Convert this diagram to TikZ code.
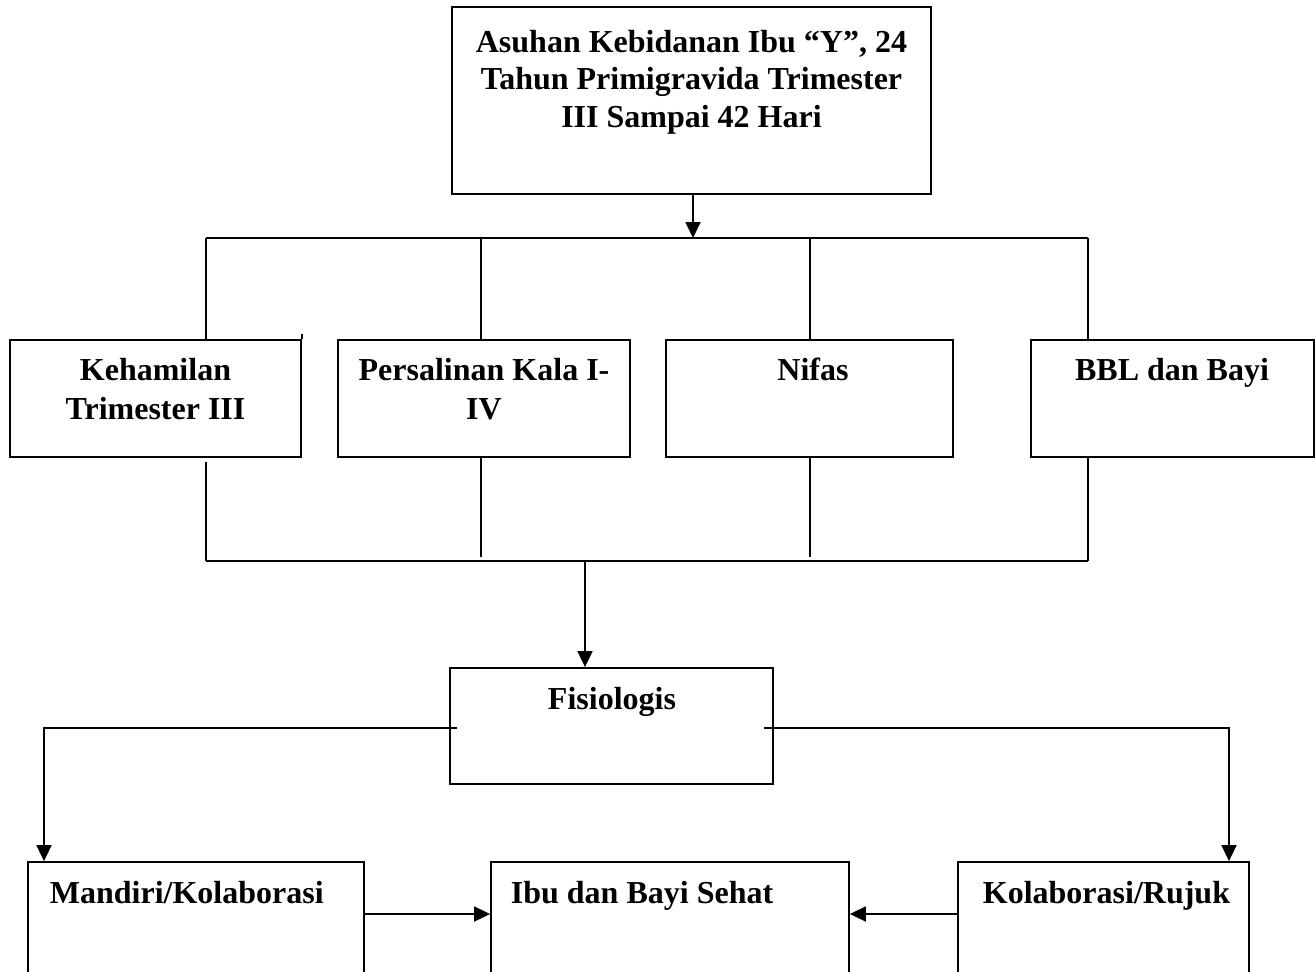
\documentclass[tikz,border=0pt]{standalone}
\usepackage{fontspec}
\setmainfont{Liberation Serif}
\usetikzlibrary{arrows.meta}
\begin{document}
\begin{tikzpicture}[x=1pt,y=-1pt,line width=1.8pt,
  box/.style={draw,line width=1.8pt,rectangle,inner sep=0pt},
  lbl/.style={inner sep=0pt,font=\fontsize{32}{38}\selectfont\bfseries,align=center,anchor=base},
  arr/.style={-{Triangle[length=16pt,width=15pt]}}]
\clip (0,0) rectangle (1315,972);
\fill[white] (0,0) rectangle (1315,972);
% boxes
\node[box,minimum width=479pt,minimum height=187pt] (top) at (691.5,100.5) {};
\node[box,minimum width=291pt,minimum height=117pt] (b1) at (155.5,398.5) {};
\node[box,minimum width=292pt,minimum height=117pt] (b2) at (484,398.5) {};
\node[box,minimum width=287pt,minimum height=117pt] (b3) at (809.5,398.5) {};
\node[box,minimum width=283pt,minimum height=117pt] (b4) at (1172.5,398.5) {};
\node[box,minimum width=323pt,minimum height=116pt] (fis) at (611.5,726) {};
\node[box,minimum width=336pt,minimum height=200pt] (man) at (196,962) {};
\node[box,minimum width=358pt,minimum height=200pt] (ibu) at (670,962) {};
\node[box,minimum width=291pt,minimum height=200pt] (kol) at (1103.5,962) {};
% texts
\node[lbl,font=\fontsize{32}{37.5}\selectfont\bfseries] (ttop) at (691.5,127) {Asuhan Kebidanan Ibu “Y”, 24\\Tahun Primigravida Trimester\\III Sampai 42 Hari};
\node[lbl,font=\fontsize{32}{39}\selectfont\bfseries] (t1) at (155.5,419) {Kehamilan\\Trimester III};
\node[lbl,font=\fontsize{32}{39}\selectfont\bfseries] (t2) at (484,419) {Persalinan Kala I-\\IV};
\node[lbl] (t3) at (813,380) {Nifas};
\node[lbl] (t4) at (1172,380) {BBL dan Bayi};
\node[lbl] (tf) at (612,709) {Fisiologis};
\node[lbl,anchor=base west] (tm) at (49,903) {Mandiri/Kolaborasi};
\node[lbl,anchor=base west] (ti) at (510,903) {Ibu dan Bayi Sehat};
\node[lbl,anchor=base west] (tk) at (982,903) {Kolaborasi/Rujuk};
% coordinates
\coordinate (hl) at (206,238);
\coordinate (hr) at (1088,238);
\coordinate (ll) at (206,561);
\coordinate (lr) at (1088,561);
\coordinate (fl) at (44,728);
\coordinate (fr) at (1229,728);
% top connectors
\draw[arr] (top.south -| 693,0) -- (693,238);
\draw (hl) -- (hr);
\draw (hl) -- (b1.north -| hl);
\draw (481,238) -- (b2.north -| 481,0);
\draw (810,238) -- (b3.north -| 810,0);
\draw (hr) -- (b4.north -| hr);
\draw (b1.north east) -- ++(0,-5);
% bottom connectors
\draw (b1.south -| 206,0) ++(0,4) -- (ll);
\draw (b2.south -| 481,0) -- (481,557);
\draw (b3.south -| 810,0) -- (810,557);
\draw (b4.south -| 1088,0) -- (lr);
\draw (ll) -- (lr);
\draw[arr] (585,561) -- (fis.north -| 585,0);
% fisiologis branches
\draw[arr] (fis.west) ++(8,2) -- (fl) -- (man.north -| fl);
\draw[arr] (fis.east) ++(-10,2) -- (fr) -- (kol.north -| fr);
% bottom arrows
\draw[arr] (man.east |- 0,914) -- (ibu.west |- 0,914);
\draw[arr] (kol.west |- 0,914) -- (ibu.east |- 0,914);
\end{tikzpicture}
\end{document}
